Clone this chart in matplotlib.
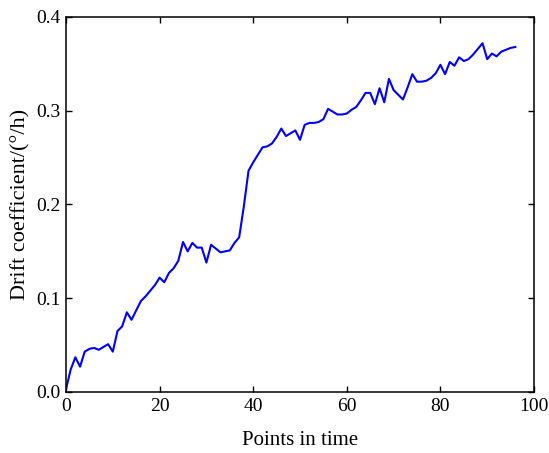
import numpy as np
import matplotlib
matplotlib.use('Agg')
import matplotlib.pyplot as plt

# drift coefficient, one value per time point
points = np.arange(0, 97)
drift = [
    0.003, 0.024, 0.037, 0.027, 0.043, 0.046, 0.047, 0.045, 0.048, 0.051,
    0.043, 0.065, 0.070, 0.085, 0.077, 0.087, 0.097, 0.102, 0.108, 0.114,
    0.122, 0.117, 0.127, 0.132, 0.140, 0.160, 0.150, 0.159, 0.154, 0.154,
    0.138, 0.157, 0.153, 0.149, 0.150, 0.151, 0.159, 0.165, 0.198, 0.236,
    0.245, 0.253, 0.261, 0.262, 0.265, 0.272, 0.281, 0.273, 0.276, 0.279,
    0.269, 0.285, 0.287, 0.287, 0.288, 0.291, 0.302, 0.299, 0.296, 0.296,
    0.297, 0.301, 0.304, 0.311, 0.319, 0.319, 0.307, 0.324, 0.309, 0.334,
    0.322, 0.317, 0.312, 0.325, 0.339, 0.331, 0.331, 0.332, 0.335, 0.340,
    0.349, 0.339, 0.352, 0.348, 0.357, 0.353, 0.355, 0.360, 0.366, 0.372,
    0.355, 0.361, 0.358, 0.363, 0.365, 0.367, 0.368,
]

plt.rcParams['font.family'] = ['Liberation Serif', 'DejaVu Serif']

fig = plt.figure(figsize=(5.49, 4.53), dpi=100)
ax = fig.add_axes([0.1202, 0.1347, 0.8525, 0.8278])

ax.plot(points, drift, color='#0000ff', lw=1.5)

ax.set_xlim(0, 100)
ax.set_ylim(0, 0.4)
ax.set_xticks(np.arange(0, 101, 20))
ax.set_yticks(np.arange(0, 0.41, 0.1))
ax.set_yticklabels(['0.0', '0.1', '0.2', '0.3', '0.4'])
ax.tick_params(direction='in', top=True, right=True, length=4.5, width=1,
               labelsize=14, pad=4)
for s in ax.spines.values():
    s.set_linewidth(1.1)

ax.set_xlabel('Points in time', fontsize=15, labelpad=12)
ax.set_ylabel('Drift coefficient/(°/h)', fontsize=16, labelpad=4)

fig.savefig('out.png', dpi=100)
